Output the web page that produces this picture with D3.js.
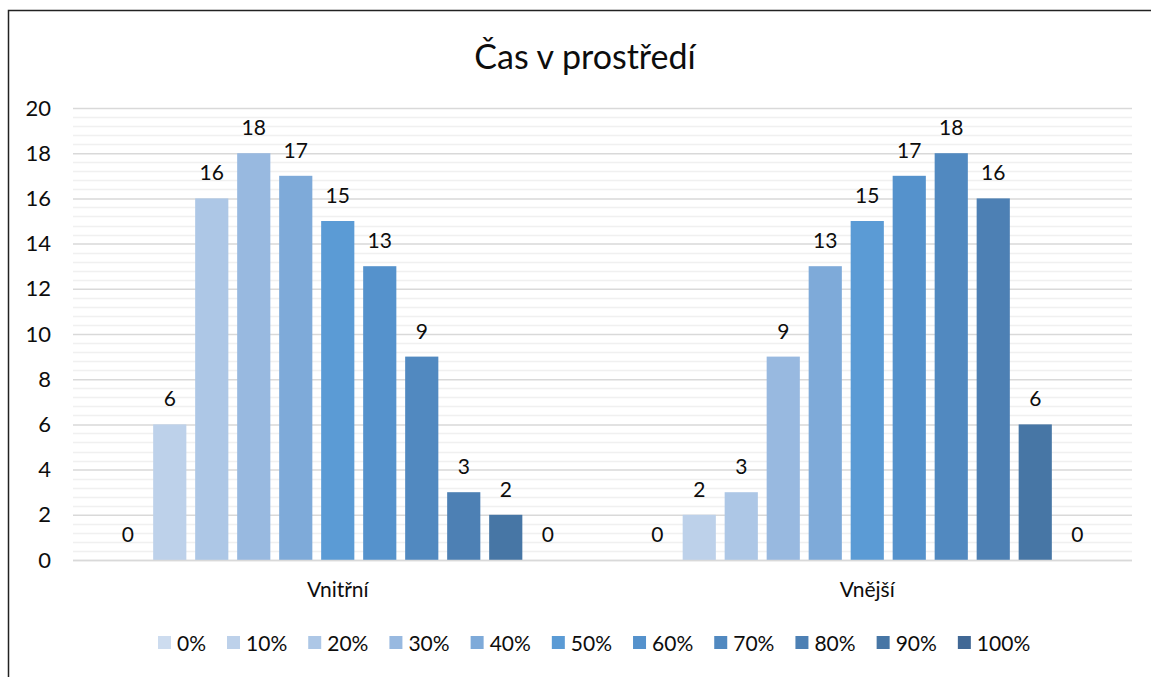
<!DOCTYPE html>
<html>
<head>
<meta charset="utf-8">
<script src="https://cdn.jsdelivr.net/npm/d3@7"></script>
<style>
  body { margin: 0; background: #fff; }
  svg { display: block; font-family: Lato, "Open Sans", sans-serif; }
</style>
</head>
<body>
<svg id="chart" width="1151" height="677"></svg>
<script>
// data
var categories = [ "Vnitřní", "Vnější" ];
var series = [ "0%", "10%", "20%", "30%", "40%", "50%", "60%", "70%", "80%", "90%", "100%" ];
var vnitrni = [ 0, 6, 16, 18, 17, 15, 13, 9, 3, 2, 0 ];
var vnejsi = [ 0, 2, 3, 9, 13, 15, 17, 18, 16, 6, 0 ];
var colors = [ "#cddcef", "#bdd1ea", "#adc7e6", "#98b9e0", "#7eaad9", "#5b9bd5",
               "#5592cc", "#5189c0", "#4d80b4", "#4776a5", "#416895" ];
var yTicks = [ 0, 2, 4, 6, 8, 10, 12, 14, 16, 18, 20 ];

var MARGIN = { left: 73, right: 1132, top: 108, bottom: 560 };
var TEXT_COLOR = "#0d0d0d";

var svg = d3.select( "#chart" );

// outer frame (chart is cropped on the right and bottom)
svg.append( "path" )
  .attr( "d", "M8.5,677 L8.5,10.5 L1151,10.5" )
  .attr( "fill", "none" )
  .attr( "stroke", "#222" )
  .attr( "stroke-width", 1.5 );

svg.append( "text" )
  .attr( "x", 585 )
  .attr( "y", 69 )
  .attr( "text-anchor", "middle" )
  .attr( "font-size", 34 )
  .attr( "fill", TEXT_COLOR )
  .text( "Čas v prostředí" );

var y = d3.scaleLinear().domain( [ 0, 20 ] ).range( [ MARGIN.bottom, MARGIN.top ] );

var x0 = d3.scaleBand()
  .domain( categories )
  .range( [ MARGIN.left, MARGIN.right ] )
  .paddingInner( 0.1275 )
  .paddingOuter( 0.06375 );

var x1 = d3.scaleBand()
  .domain( series )
  .range( [ 0, x0.bandwidth() ] )
  .paddingInner( 0.21 )
  .paddingOuter( 0.105 );

// minor gridlines every 0.4
var minor = d3.range( 0, 20.01, 0.4 ).filter( function( v ){ return Math.abs( v / 2 - Math.round( v / 2 ) ) > 0.01; } );
svg.append( "g" ).selectAll( "line" )
  .data( minor )
  .join( "line" )
  .attr( "x1", MARGIN.left ).attr( "x2", MARGIN.right )
  .attr( "y1", function( d ){ return Math.round( y( d ) ) + 0.5; } )
  .attr( "y2", function( d ){ return Math.round( y( d ) ) + 0.5; } )
  .attr( "stroke", "#f0f0f0" )
  .attr( "stroke-width", 1.5 );

// major gridlines via axis
var yAxis = svg.append( "g" )
  .attr( "transform", "translate(" + MARGIN.left + ",0)" )
  .call( d3.axisLeft( y ).tickValues( yTicks ).tickSize( -( MARGIN.right - MARGIN.left ) ).tickPadding( 22 ) );
yAxis.select( ".domain" ).remove();
yAxis.selectAll( ".tick line" ).attr( "stroke", "#d9d9d9" ).attr( "stroke-width", 1.5 );
yAxis.selectAll( ".tick text" )
  .attr( "font-family", "Lato, 'Open Sans', sans-serif" )
  .attr( "font-size", 22 )
  .attr( "fill", TEXT_COLOR );

var rows = categories.map( function( c, i ){
  var vals = i == 0 ? vnitrni : vnejsi;
  return { cat: c, vals: vals };
} );

var groups = svg.append( "g" ).selectAll( "g" )
  .data( rows )
  .join( "g" )
  .attr( "transform", function( d ){ return "translate(" + x0( d.cat ) + ",0)"; } );

groups.selectAll( "rect" )
  .data( function( d ){ return d.vals.map( function( v, k ){ return { s: series[ k ], v: v, k: k }; } ); } )
  .join( "rect" )
  .attr( "x", function( d ){ return x1( d.s ); } )
  .attr( "width", x1.bandwidth() )
  .attr( "y", function( d ){ return y( d.v ); } )
  .attr( "height", function( d ){ return y( 0 ) - y( d.v ); } )
  .attr( "fill", function( d ){ return colors[ d.k ]; } );

groups.selectAll( "text" )
  .data( function( d ){ return d.vals.map( function( v, k ){ return { s: series[ k ], v: v }; } ); } )
  .join( "text" )
  .attr( "x", function( d ){ return x1( d.s ) + x1.bandwidth() / 2; } )
  .attr( "y", function( d ){ return y( d.v ) - 18; } )
  .attr( "text-anchor", "middle" )
  .attr( "font-size", 21 )
  .attr( "fill", TEXT_COLOR )
  .text( function( d ){ return d.v; } );

// baseline
svg.append( "line" )
  .attr( "x1", MARGIN.left ).attr( "x2", MARGIN.right )
  .attr( "y1", y( 0 ) + 0.5 ).attr( "y2", y( 0 ) + 0.5 )
  .attr( "stroke", "#d9d9d9" ).attr( "stroke-width", 1.5 );

// category labels
svg.append( "g" ).selectAll( "text" )
  .data( categories )
  .join( "text" )
  .attr( "x", function( d ){ return x0( d ) + x0.bandwidth() / 2; } )
  .attr( "y", 597 )
  .attr( "text-anchor", "middle" )
  .attr( "font-size", 21 )
  .attr( "fill", TEXT_COLOR )
  .text( function( d ){ return d; } );

// legend
var legend = svg.append( "g" );
var lx = 158;
series.forEach( function( s, k ){
  var item = legend.append( "g" ).attr( "transform", "translate(" + lx + ",0)" );
  item.append( "rect" )
    .attr( "x", 0 ).attr( "y", 636 )
    .attr( "width", 13 ).attr( "height", 13 )
    .attr( "fill", colors[ k ] );
  var t = item.append( "text" )
    .attr( "x", 19 ).attr( "y", 651 )
    .attr( "font-size", 21 )
    .attr( "fill", TEXT_COLOR )
    .text( s );
  lx += 19 + t.node().getComputedTextLength() + 21;
} );
</script>
</body>
</html>
